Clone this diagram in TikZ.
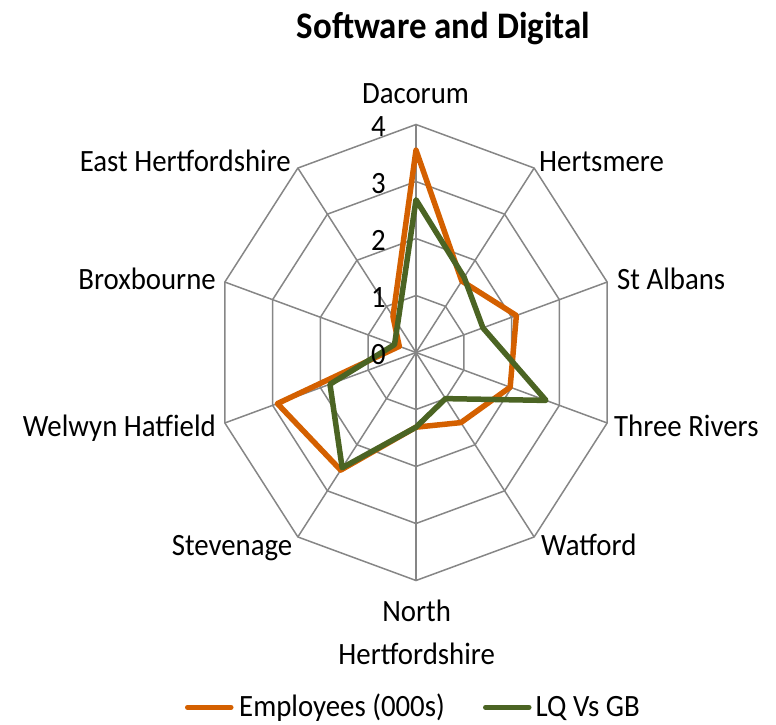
\documentclass[tikz,border=0pt]{standalone}
\usepackage{fontspec}
\setmainfont[FakeStretch=0.93]{Carlito}
\definecolor{gridgray}{RGB}{134,134,134}
\definecolor{emporange}{RGB}{212,96,0}
\definecolor{lqgreen}{RGB}{75,100,35}
\tikzset{
  gridline/.style={draw=gridgray, line width=1.5pt},
  empline/.style={draw=emporange, line width=5.5pt, line join=round},
  lqline/.style={draw=lqgreen, line width=5.5pt, line join=round},
  legline/.style={line width=5pt, line cap=round},
  lab/.style={inner sep=0pt, font=\fontsize{31}{35}\selectfont},
  ticklab/.style={inner sep=0pt, anchor=base east, font=\fontsize{31}{35}\selectfont},
  titlelab/.style={inner sep=0pt, anchor=base, font=\bfseries\fontsize{37.5}{40}\selectfont}
}
\begin{document}
\begin{tikzpicture}[x=1pt,y=-1pt]
\useasboundingbox (0,0) rectangle (776,725);
\def\cx{416}\def\cy{352.5}\def\rx{50.25}\def\ry{57}
\coordinate (O) at (\cx,\cy);
% grid coordinates
\foreach \k in {0,...,9}{
  \foreach \r in {1,...,4}{
    \coordinate (g\r-\k) at ({\cx+\r*\rx*cos(90-36*\k)},{\cy-\r*\ry*sin(90-36*\k)});
  }
}
% rings
\foreach \r in {1,...,4}{
  \draw[gridline] (g\r-0) -- (g\r-1) -- (g\r-2) -- (g\r-3) -- (g\r-4) -- (g\r-5) -- (g\r-6) -- (g\r-7) -- (g\r-8) -- (g\r-9) -- cycle;
}
% spokes
\foreach \k in {0,...,9}{
  \draw[gridline] (O) -- (g4-\k);
}
% data
\foreach \k/\v in {0/3.55,1/1.55,2/2.1,3/1.97,4/1.52,5/1.31,6/2.55,7/2.9,8/0.35,9/0.78}{
  \coordinate (e\k) at ({\cx+\v*\rx*cos(90-36*\k)},{\cy-\v*\ry*sin(90-36*\k)});
}
\foreach \k/\v in {0/2.68,1/1.63,2/1.4,3/2.72,4/1.0,5/1.31,6/2.5,7/1.8,8/0.45,9/0.62}{
  \coordinate (q\k) at ({\cx+\v*\rx*cos(90-36*\k)},{\cy-\v*\ry*sin(90-36*\k)});
}
\draw[empline] (e0) -- (e1) -- (e2) -- (e3) -- (e4) -- (e5) -- (e6) -- (e7) -- (e8) -- (e9) -- cycle;
\draw[lqline] (q0) -- (q1) -- (q2) -- (q3) -- (q4) -- (q5) -- (q6) -- (q7) -- (q8) -- (q9) -- cycle;
% tick labels
\foreach \r in {0,...,4}{
  \node[ticklab] (t\r) at (386,{\cy-\r*\ry+11.5}) {\r};
}
% title
\node[titlelab] (title) at (443.5,38.3) {Software and Digital};
% axis labels
\node[lab, anchor=base] (dac) at (415.5,103.3) {Dacorum};
\node[lab, anchor=base west] (her) at (539,171.5) {Hertsmere};
\node[lab, anchor=base west] (sta) at (617,289) {St Albans};
\node[lab, anchor=base west] (thr) at (614,436.5) {Three Rivers};
\node[lab, anchor=base west] (wat) at (541,555) {Watford};
\node[lab, anchor=base] (nor) at (416.7,621.7) {North};
\node[lab, anchor=base] (nhe) at (416.7,664) {Hertfordshire};
\node[lab, anchor=base east] (ste) at (292.5,555) {Stevenage};
\node[lab, anchor=base east] (wel) at (216,436) {Welwyn Hatfield};
\node[lab, anchor=base east] (bro) at (216,289) {Broxbourne};
\node[lab, anchor=base east] (eas) at (291,171.7) {East Hertfordshire};
% legend
\coordinate (l1a) at (187.5,707.3);
\coordinate (l1b) at (231,707.3);
\coordinate (l2a) at (485.5,707.3);
\coordinate (l2b) at (529,707.3);
\draw[legline, emporange] (l1a) -- (l1b);
\draw[legline, lqgreen] (l2a) -- (l2b);
\node[lab, anchor=base west] (leg1) at (239,716.7) {Employees (000s)};
\node[lab, anchor=base west] (leg2) at (535.5,716.7) {LQ Vs GB};
\end{tikzpicture}
\end{document}
